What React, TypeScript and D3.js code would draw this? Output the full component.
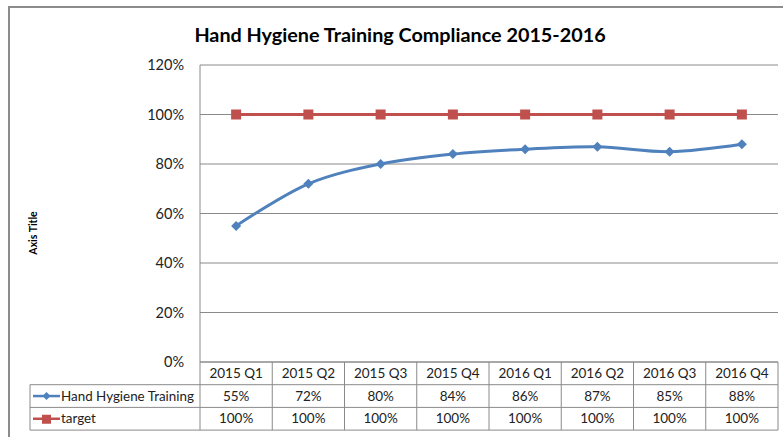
import React from "react";
import * as d3 from "d3";

const categories = ["2015 Q1", "2015 Q2", "2015 Q3", "2015 Q4", "2016 Q1", "2016 Q2", "2016 Q3", "2016 Q4"];
const trainingValues = [55, 72, 80, 84, 86, 87, 85, 88];
const targetValues = [100, 100, 100, 100, 100, 100, 100, 100];
const yTicks = [0, 20, 40, 60, 80, 100, 120];
const seriesNames = ["Hand Hygiene Training", "target"];

const FONT = "Lato, 'Open Sans', sans-serif";
const BLUE = "#4F81BD";
const RED = "#C0504D";
const GRID = "#8a8a8a";

export default function App() {
  const left = 200, right = 778, top = 65, bottom = 362;
  const x = d3.scaleBand<string>().domain(categories).range([left, right]);
  const y = d3.scaleLinear().domain([0, 120]).range([bottom, top]);
  const cx = (c: string) => (x(c) as number) + x.bandwidth() / 2;

  const smooth = d3.line<number>()
    .x((_, i) => cx(categories[i]))
    .y((d) => y(d))
    .curve(d3.curveCatmullRom.alpha(0.5));
  const straight = d3.line<number>()
    .x((_, i) => cx(categories[i]))
    .y((d) => y(d));

  const rowH = 22.7;
  const tableTop = bottom;
  const legendLeft = 30;
  const rows = [tableTop, tableTop + rowH, tableTop + 2 * rowH, tableTop + 3 * rowH];

  const diamond = (px: number, py: number, r: number) =>
    `M${px},${py - r}L${px + r},${py}L${px},${py + r}L${px - r},${py}Z`;

  return (
    <svg width={783} height={437} style={{ position: "absolute", left: 0, top: 0, background: "#fff" }}>
      <rect x={0} y={0} width={783} height={437} fill="#fff" />
      <rect x={9} y={7} width={800} height={500} fill="none" stroke="#8c8c8c" strokeWidth={2} />
      <text x={400} y={42} textAnchor="middle" fontFamily={FONT} fontWeight="bold" fontSize={19.8} fill="#000">
        Hand Hygiene Training Compliance 2015-2016
      </text>
      <text transform={`translate(37,233) rotate(-90)`} textAnchor="middle" fontFamily={FONT} fontWeight="bold" fontSize={10.5} fill="#000">
        Axis Title
      </text>
      {yTicks.map((t) => (
        <g key={t}>
          <line x1={left} x2={right} y1={y(t)} y2={y(t)} stroke={GRID} strokeWidth={1} />
          <text x={184} y={y(t) + 5} textAnchor="end" fontFamily={FONT} fontSize={14.5} fill="#222">
            {t}%
          </text>
        </g>
      ))}
      <line x1={left} x2={left} y1={top} y2={rows[3]} stroke={GRID} strokeWidth={1} />
      {/* table */}
      <g stroke={GRID} strokeWidth={1} fill="none">
        <line x1={left} x2={right} y1={rows[0]} y2={rows[0]} />
        <line x1={legendLeft} x2={right} y1={rows[1]} y2={rows[1]} />
        <line x1={legendLeft} x2={right} y1={rows[2]} y2={rows[2]} />
        <line x1={legendLeft} x2={right} y1={rows[3]} y2={rows[3]} />
        <line x1={legendLeft} x2={legendLeft} y1={rows[1]} y2={rows[3]} />
        {categories.map((c) => (
          <line key={c} x1={(x(c) as number) + x.bandwidth()} x2={(x(c) as number) + x.bandwidth()} y1={rows[0]} y2={rows[3]} />
        ))}
      </g>
      {categories.map((c, i) => (
        <g key={c} fontFamily={FONT} fontSize={13.5} fill="#222" textAnchor="middle">
          <text x={cx(c)} y={rows[0] + 16}>{c}</text>
          <text x={cx(c)} y={rows[1] + 16}>{trainingValues[i]}%</text>
          <text x={cx(c)} y={rows[2] + 16}>{targetValues[i]}%</text>
        </g>
      ))}
      {/* legend keys */}
      <line x1={33} x2={60} y1={rows[1] + rowH / 2} y2={rows[1] + rowH / 2} stroke={BLUE} strokeWidth={2.5} />
      <path d={diamond(46.5, rows[1] + rowH / 2, 4)} fill={BLUE} />
      <text x={61} y={rows[1] + 16} fontFamily={FONT} fontSize={13.4} fill="#222">{seriesNames[0]}</text>
      <line x1={33} x2={60} y1={rows[2] + rowH / 2} y2={rows[2] + rowH / 2} stroke={RED} strokeWidth={2.5} />
      <rect x={42} y={rows[2] + rowH / 2 - 4} width={9} height={9} fill={RED} />
      <text x={61} y={rows[2] + 16} fontFamily={FONT} fontSize={13.4} fill="#222">{seriesNames[1]}</text>
      {/* series */}
      <path d={straight(targetValues) || ""} fill="none" stroke={RED} strokeWidth={3} />
      {targetValues.map((v, i) => (
        <rect key={i} x={cx(categories[i]) - 5} y={y(v) - 5} width={10} height={10} fill={RED} />
      ))}
      <path d={smooth(trainingValues) || ""} fill="none" stroke={BLUE} strokeWidth={3} />
      {trainingValues.map((v, i) => (
        <path key={i} d={diamond(cx(categories[i]), y(v), 5)} fill={BLUE} />
      ))}
    </svg>
  );
}
